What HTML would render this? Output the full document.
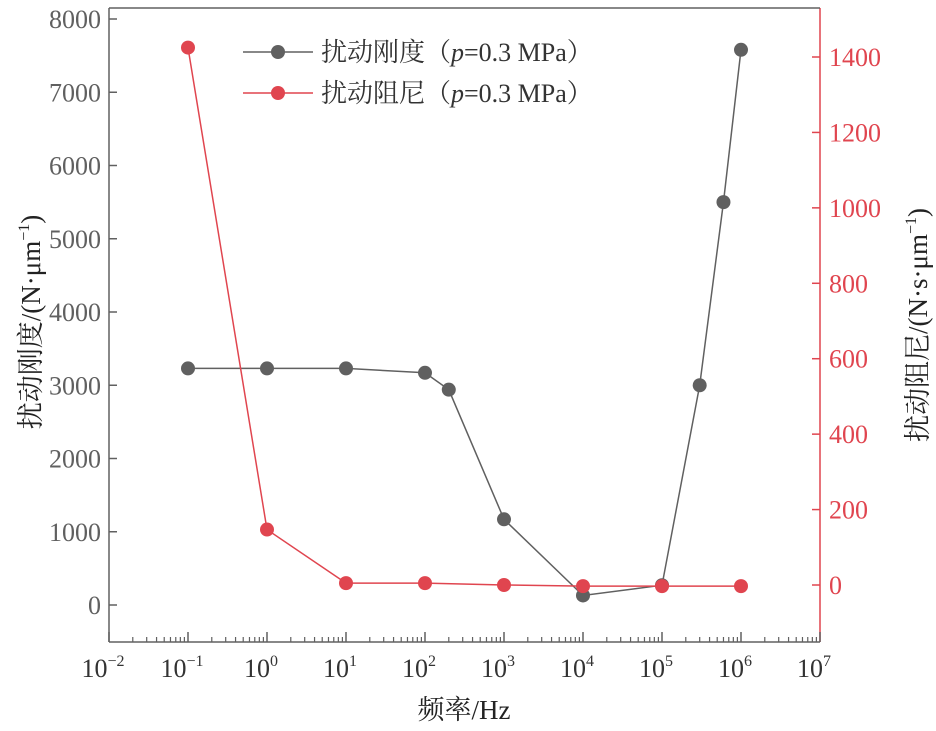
<!DOCTYPE html>
<html><head><meta charset="utf-8"><style>
body{margin:0;background:#fff}
svg text{font-family:"Liberation Serif","Noto Serif CJK SC",serif}
</style></head><body>
<svg id="c" width="936" height="726" xmlns="http://www.w3.org/2000/svg"></svg>
<script>
const grayX=[0.1,1,10,100,200,1000,10000,1e5,3e5,6e5,1e6];
const grayY=[3230,3230,3230,3170,2940,1170,130,270,3000,5500,7580];
const redX=[0.1,1,10,100,1000,1e4,1e5,1e6];
const redY=[1425,147,5,5,0,-3,-3,-3];
const leftTicks=[0,1000,2000,3000,4000,5000,6000,7000,8000];
const rightTicks=[0,200,400,600,800,1000,1200,1400];
const xExps=[-2,-1,0,1,2,3,4,5,6,7];
const L=109,R=820,T=8,B=642;
const sx=v=>L+(Math.log10(v)+2)*(R-L)/9;
const syL=v=>605-v*(586/8000);
const syR=v=>585-v*(528/1400);
const svg=document.getElementById('c');const NS='http://www.w3.org/2000/svg';
function mk(t,a,txt){const e=document.createElementNS(NS,t);for(const k in a)e.setAttribute(k,a[k]);if(txt!==undefined)e.textContent=txt;svg.appendChild(e);return e;}
const GR='#606060',RD='#e0454f';
let e;
e=mk('line',{x1:L,y1:T,x2:L,y2:B,stroke:GR,'stroke-width':1.5});
e=mk('line',{x1:R,y1:T,x2:R,y2:B,stroke:RD,'stroke-width':1.5});
e=mk('line',{x1:L,y1:T,x2:R,y2:T,stroke:GR,'stroke-width':1.5});
e=mk('line',{x1:L,y1:B,x2:R,y2:B,stroke:GR,'stroke-width':1.5});
leftTicks.forEach(v=>{const y=syL(v);
e=mk('line',{x1:L,y1:y,x2:L+8,y2:y,stroke:GR,'stroke-width':1.5});
e=mk('text',{x:L-8,y:y+9,'text-anchor':'end','font-size':26,fill:GR},v);});
rightTicks.forEach(v=>{const y=syR(v);
e=mk('line',{x1:R,y1:y,x2:R-8,y2:y,stroke:RD,'stroke-width':1.5});
e=mk('text',{x:R+9,y:y+9,'font-size':26,fill:RD},v);});
xExps.forEach((p,i)=>{const x=sx(Math.pow(10,p));
e=mk('line',{x1:x,y1:B,x2:x,y2:B-10,stroke:GR,'stroke-width':1.5});
if(i<xExps.length-1)for(let m=2;m<10;m++){const xm=sx(m*Math.pow(10,p));e=mk('line',{x1:xm,y1:B,x2:xm,y2:B-5,stroke:GR,'stroke-width':1.2});}
e=mk('text',{x:x-6,y:677,'text-anchor':'middle','font-size':26,fill:'#333'});
e.innerHTML='10<tspan dy="-11" font-size="16">'+(p<0?'\u2212'+(-p):p)+'</tspan>';});
e=mk('text',{x:464,y:719,'text-anchor':'middle','font-size':27,fill:'#222'},'频率/Hz');
e=mk('text',{x:0,y:0,'text-anchor':'middle','font-size':27,fill:'#222',transform:'translate(40,322) rotate(-90)'});
e.innerHTML='扰动刚度/(N·μm<tspan dy="-11" font-size="16">−1</tspan><tspan dy="11">)</tspan>';
e=mk('text',{x:0,y:0,'text-anchor':'middle','font-size':27,fill:'#222',transform:'translate(927,325) rotate(-90)'});
e.innerHTML='扰动阻尼/(N·s·μm<tspan dy="-11" font-size="16">−1</tspan><tspan dy="11">)</tspan>';
function series(X,Y,sy,col,name){
e=mk('polyline',{points:X.map((x,i)=>sx(x)+','+sy(Y[i])).join(' '),fill:'none',stroke:col,'stroke-width':1.5});
X.forEach((x,i)=>{e=mk('circle',{cx:sx(x),cy:sy(Y[i]),r:7,fill:col});});}
series(grayX,grayY,syL,'#606060','stiffness');
series(redX,redY,syR,RD,'damping');
[[52,'#606060','扰动刚度'],[93,RD,'扰动阻尼']].forEach(([y,c,t],i)=>{
e=mk('line',{x1:243,y1:y,x2:313,y2:y,stroke:c,'stroke-width':1.5});
e=mk('circle',{cx:278,cy:y,r:7,fill:c});
e=mk('text',{x:321,y:y+9,'font-size':26,fill:'#333'});
e.innerHTML=t+'（<tspan font-style="italic">p</tspan>=0.3 MPa）';});
</script>
</body></html>
